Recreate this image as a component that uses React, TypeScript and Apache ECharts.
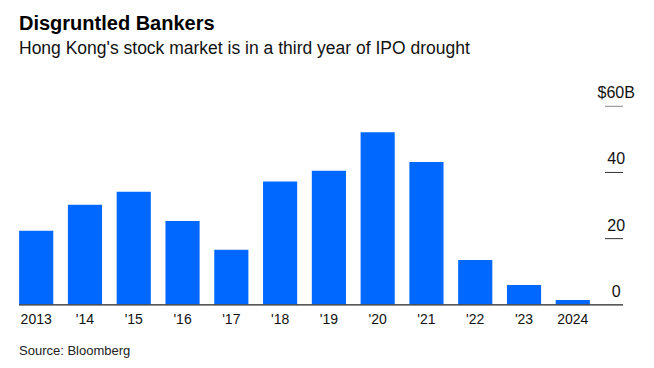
import React, { useEffect, useRef } from "react";
import * as echarts from "echarts";

const categories = ["2013", "'14", "'15", "'16", "'17", "'18", "'19", "'20", "'21", "'22", "'23", "2024"];
const ipoFunds = [22.2, 30.1, 34.0, 25.2, 16.5, 37.1, 40.4, 52.0, 43.0, 13.4, 5.8, 1.3];
const yTicks = [0, 20, 40, 60];
const yLabels = ["0", "20", "40", "$60B"];

const title = "Disgruntled Bankers";
const subtitle = "Hong Kong's stock market is in a third year of IPO drought";
const source = "Source: Bloomberg";

const FONT = "'Liberation Sans', Arial, Helvetica, sans-serif";

export default function App() {
  const ref = useRef<HTMLDivElement>(null);
  useEffect(() => {
    if (!ref.current) return;
    const chart = echarts.init(ref.current, undefined, { renderer: "svg" });
    chart.setOption({
      animation: false,
      backgroundColor: "#ffffff",
      textStyle: { fontFamily: FONT },
      grid: { left: 11.8, right: 56.8, top: 105.8, bottom: 63.7, containLabel: false },
      xAxis: {
        type: "category",
        data: categories,
        axisLine: { show: false },
        axisTick: { show: false },
        axisLabel: { color: "#111", fontSize: 14, margin: 8, fontFamily: FONT },
      },
      yAxis: {
        type: "value",
        position: "right",
        min: 0,
        max: 60,
        interval: 20,
        splitLine: { show: false },
        axisLine: { show: false },
        axisTick: { show: false },
        axisLabel: {
          color: "#111",
          fontSize: 16,
          fontFamily: FONT,
          align: "center",
          verticalAlign: "bottom",
          margin: 19,
          padding: [0, 0, 5, 0],
          formatter: (v: number) => {
            const i = yTicks.indexOf(v);
            return i >= 0 ? yLabels[i] : "";
          },
        },
      },
      series: [
        {
          type: "bar",
          data: ipoFunds,
          barCategoryGap: "30%",
          itemStyle: { color: "#0068ff" },
        },
      ],
    });

    const baseY = chart.convertToPixel({ yAxisIndex: 0 }, 0) as number;
    const graphics: any[] = [
      {
        type: "text",
        left: 19,
        top: 13,
        style: { text: title, font: `bold 20px ${FONT}`, fill: "#000" },
      },
      {
        type: "text",
        left: 19,
        top: 39,
        style: { text: subtitle, font: `17.5px ${FONT}`, fill: "#111" },
      },
      {
        type: "text",
        left: 19,
        top: 344,
        style: { text: source, font: `13px ${FONT}`, fill: "#222" },
      },
      {
        type: "line",
        shape: { x1: 19, y1: baseY + 0.5, x2: 623, y2: baseY + 0.5 },
        style: { stroke: "#222", lineWidth: 1.2 },
        z: 10,
      },
    ];
    yTicks.forEach((t) => {
      if (t === 0) return;
      const py = chart.convertToPixel({ yAxisIndex: 0 }, t) as number;
      graphics.push({
        type: "line",
        shape: { x1: 605, y1: py + 0.5, x2: 623, y2: py + 0.5 },
        style: { stroke: t === 60 ? "#888" : "#333", lineWidth: 1 },
      });
    });
    chart.setOption({ graphic: graphics });
    return () => chart.dispose();
  }, []);
  return (
    <div
      ref={ref}
      style={{ position: "fixed", left: 0, top: 0, width: 654, height: 368 }}
    />
  );
}
